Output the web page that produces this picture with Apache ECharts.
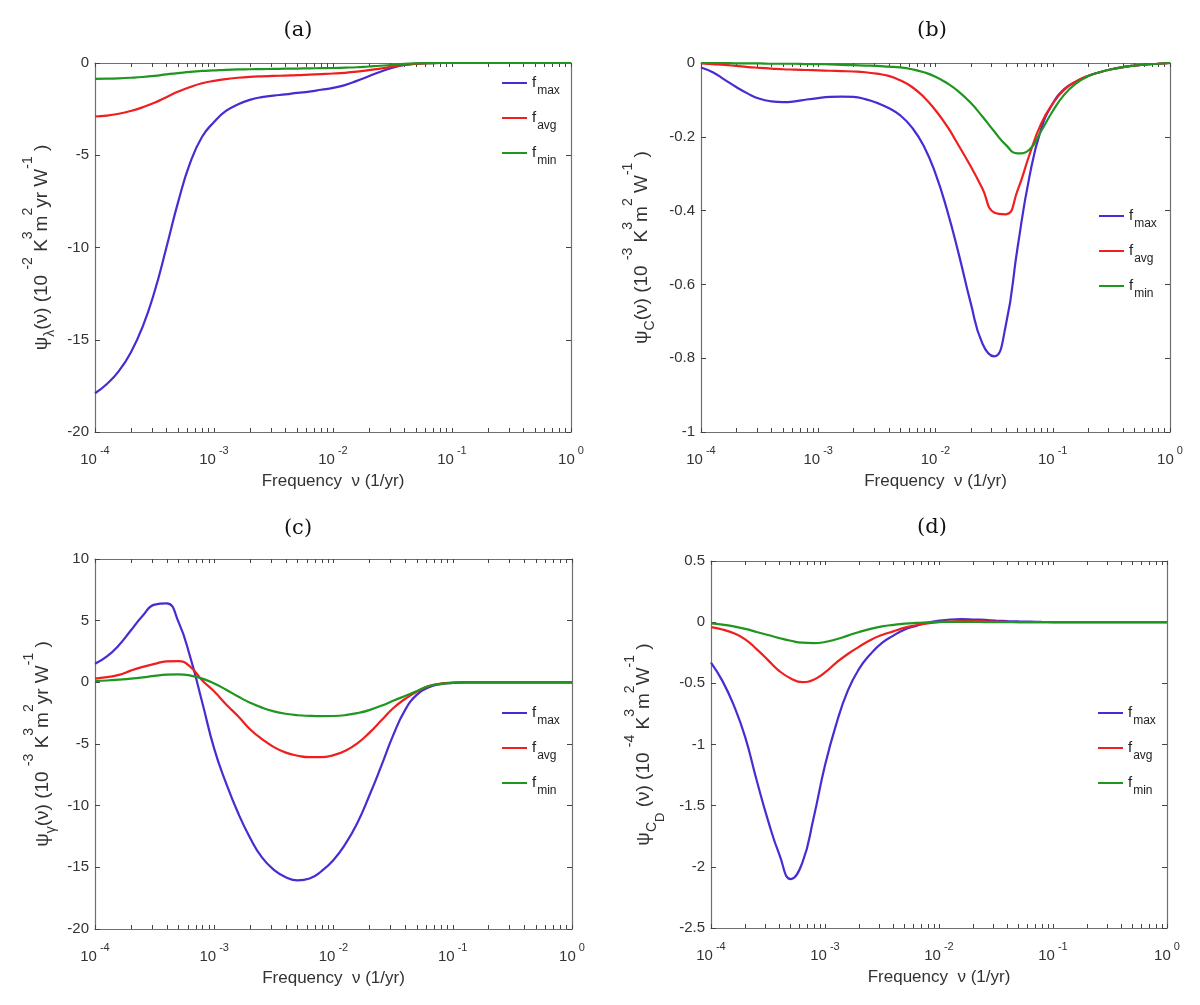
<!DOCTYPE html>
<html>
<head>
<meta charset="utf-8">
<script src="https://cdn.jsdelivr.net/npm/echarts@6/dist/echarts.min.js"></script>
<style>
  html, body { margin: 0; padding: 0; background: #fff; }
  #main { width: 1200px; height: 1005px; }
</style>
</head>
<body>
<div id="main"></div>
<script>
// log10 of frequency (1/yr), 10 points per decade
const logFreq = [-4.0, -3.9, -3.8, -3.7, -3.6, -3.5, -3.4, -3.3, -3.2, -3.1,
  -3.0, -2.9, -2.8, -2.7, -2.6, -2.5, -2.4, -2.3, -2.2, -2.1,
  -2.0, -1.9, -1.8, -1.7, -1.6, -1.5, -1.4, -1.3, -1.2, -1.1,
  -1.0, -0.9, -0.8, -0.7, -0.6, -0.5, -0.4, -0.3, -0.2, -0.1, 0.0]

// (a) psi_lambda, 10^-2
const lambdaMax = [-17.9, -17.4, -16.7, -15.7, -14.3, -12.4, -10.0, -7.5, -5.4, -4.0,
  -3.2, -2.6, -2.25, -2.0, -1.85, -1.77, -1.7, -1.62, -1.55, -1.45,
  -1.35, -1.2, -0.97, -0.72, -0.47, -0.26, -0.11, -0.03, -0.01, 0,
  0, 0, 0, 0, 0, 0, 0, 0, 0, 0, 0]
const lambdaAvg = [-2.9, -2.85, -2.75, -2.6, -2.4, -2.15, -1.85, -1.55, -1.3, -1.1,
  -0.97, -0.87, -0.8, -0.75, -0.72, -0.7, -0.68, -0.66, -0.63, -0.6,
  -0.57, -0.53, -0.47, -0.39, -0.3, -0.2, -0.11, -0.04, -0.01, 0,
  0, 0, 0, 0, 0, 0, 0, 0, 0, 0, 0]
const lambdaMin = [-0.86, -0.85, -0.83, -0.8, -0.76, -0.7, -0.62, -0.55, -0.48, -0.43,
  -0.4, -0.37, -0.35, -0.34, -0.33, -0.32, -0.31, -0.3, -0.29, -0.28,
  -0.27, -0.25, -0.23, -0.19, -0.15, -0.1, -0.05, -0.02, -0.005, 0,
  0, 0, 0, 0, 0, 0, 0, 0, 0, 0, 0]

// (b) psi_C, 10^-3
const cMax = [-0.012, -0.025, -0.045, -0.065, -0.083, -0.097, -0.104, -0.106, -0.104, -0.099,
  -0.095, -0.092, -0.091, -0.092, -0.098, -0.108, -0.122, -0.142, -0.175, -0.225,
  -0.30, -0.40, -0.52, -0.65, -0.76, -0.795, -0.71, -0.50, -0.31, -0.18,
  -0.11, -0.07, -0.05, -0.035, -0.025, -0.017, -0.011, -0.007, -0.004, -0.002, 0]
const cAvg = [-0.001, -0.003, -0.005, -0.008, -0.011, -0.013, -0.015, -0.017, -0.018, -0.019,
  -0.020, -0.021, -0.022, -0.023, -0.025, -0.029, -0.035, -0.047, -0.065, -0.092,
  -0.128, -0.172, -0.225, -0.28, -0.34, -0.405, -0.41, -0.345, -0.25, -0.165,
  -0.11, -0.072, -0.05, -0.035, -0.025, -0.017, -0.011, -0.007, -0.004, -0.002, 0]
const cMin = [0, 0, 0, -0.001, -0.001, -0.001, -0.002, -0.002, -0.002, -0.003,
  -0.003, -0.004, -0.005, -0.006, -0.007, -0.008, -0.01, -0.012, -0.017, -0.025,
  -0.037, -0.055, -0.078, -0.108, -0.145, -0.185, -0.222, -0.245, -0.235, -0.185,
  -0.13, -0.085, -0.055, -0.036, -0.025, -0.017, -0.011, -0.007, -0.004, -0.002, 0]

// (c) psi_gamma, 10^-3
const gammaMax = [1.5, 2.1, 3.0, 4.2, 5.4, 6.3, 6.4, 4.9, 2.0, -1.65,
  -5.4, -8.2, -10.6, -12.6, -14.2, -15.2, -15.8, -16.05, -15.9, -15.3,
  -14.4, -13.1, -11.4, -9.2, -6.8, -4.3, -2.25, -1.0, -0.4, -0.15,
  -0.05, 0, 0, 0, 0, 0, 0, 0, 0, 0, 0]
const gammaAvg = [0.3, 0.42, 0.6, 0.95, 1.25, 1.5, 1.7, 1.72, 1.25, 0.15,
  -0.75, -1.8, -2.75, -3.8, -4.6, -5.25, -5.7, -5.95, -6.07, -6.07,
  -5.9, -5.55, -4.95, -4.1, -3.1, -2.1, -1.35, -0.75, -0.3, -0.1,
  -0.03, 0, 0, 0, 0, 0, 0, 0, 0, 0, 0]
const gammaMin = [0.1, 0.15, 0.22, 0.3, 0.4, 0.52, 0.62, 0.65, 0.55, 0.3,
  -0.1, -0.6, -1.15, -1.65, -2.05, -2.35, -2.55, -2.67, -2.72, -2.74,
  -2.73, -2.66, -2.5, -2.25, -1.9, -1.5, -1.1, -0.7, -0.3, -0.12,
  -0.04, 0, 0, 0, 0, 0, 0, 0, 0, 0, 0]

// (d) psi_CD, 10^-4
const cdMax = [-0.33, -0.48, -0.68, -0.94, -1.29, -1.62, -1.9, -2.1, -1.97, -1.6,
  -1.17, -0.83, -0.56, -0.38, -0.26, -0.17, -0.11, -0.06, -0.03, -0.005,
  0.012, 0.022, 0.025, 0.022, 0.018, 0.013, 0.009, 0.006, 0.004, 0.002,
  0.001, 0, 0, 0, 0, 0, 0, 0, 0, 0, 0]
const cdAvg = [-0.04, -0.06, -0.09, -0.14, -0.22, -0.31, -0.4, -0.46, -0.49, -0.47,
  -0.41, -0.33, -0.26, -0.2, -0.145, -0.105, -0.075, -0.045, -0.025, -0.01,
  0, 0.005, 0.008, 0.008, 0.006, 0.004, 0.002, 0.001, 0, 0,
  0, 0, 0, 0, 0, 0, 0, 0, 0, 0, 0]
const cdMin = [-0.01, -0.02, -0.035, -0.055, -0.08, -0.105, -0.13, -0.152, -0.168, -0.172,
  -0.162, -0.14, -0.11, -0.08, -0.055, -0.035, -0.022, -0.012, -0.006, -0.002,
  0.002, 0.003, 0.003, 0.002, 0.001, 0, 0, 0, 0, 0,
  0, 0, 0, 0, 0, 0, 0, 0, 0, 0, 0]

const seriesNames = ['fmax', 'favg', 'fmin']
const legendSubs = { fmax: 'max', favg: 'avg', fmin: 'min' }
const seriesColors = ['#4a2bd3', '#f01e1e', '#1f961f']
const panelTitles = ['(a)', '(b)', '(c)', '(d)']

const fontSans = 'Liberation Sans, Arial, sans-serif'
const boxColor = '#707070'
const textColor = '#333'

// minor ticks of a log axis, expressed in log10 units
const decades = [-4, -3, -2, -1]
const mantissas = [1, 2, 3, 4, 5, 6, 7, 8, 9]
const xTickVals = []
decades.forEach(function(d) {
  mantissas.forEach(function(m) { xTickVals.push(d + Math.log10(m)) })
})
xTickVals.push(0)

const nameRich = {
  b: { fontSize: 19, fontFamily: fontSans, color: textColor, verticalAlign: 'top', padding: [11, 0, 0, 0] },
  p: { fontSize: 14, fontFamily: fontSans, color: textColor, verticalAlign: 'top', padding: [0, 0, 0, 0] },
  s: { fontSize: 14, fontFamily: fontSans, color: textColor, verticalAlign: 'top', padding: [22, 0, 0, 0] },
  ss: { fontSize: 13, fontFamily: fontSans, color: textColor, verticalAlign: 'top', padding: [31, 0, 0, 0] }
}

const panels = [
  {
    grid: { left: 95, top: 63, width: 476, height: 369 },
    title: [298, 31],
    y: { min: -20, max: 0, interval: 5 },
    yName: '{b|ψ}{s|λ}{b|(ν) (10 }{p|-2}{b| K}{p|3}{b|m}{p|2}{b|yr W}{p|-1}{b| )}',
    nameGap: 38,
    legend: { left: 502, top: 75 },
    data: [lambdaMax, lambdaAvg, lambdaMin]
  },
  {
    grid: { left: 701, top: 63, width: 469, height: 369 },
    title: [932, 31],
    y: { min: -1, max: 0, interval: 0.2 },
    yName: '{b|ψ}{s|C}{b|(ν) (10 }{p|-3}{b| K}{p|3}{b|m}{p|2}{b| W}{p|-1}{b| )}',
    nameGap: 44,
    legend: { left: 1099, top: 208 },
    data: [cMax, cAvg, cMin]
  },
  {
    grid: { left: 95, top: 559, width: 477, height: 370 },
    title: [298, 529],
    y: { min: -20, max: 10, interval: 5 },
    yName: '{b|ψ}{s|γ}{b|(ν) (10 }{p|-3}{b| K}{p|3}{b|m}{p|2}{b|yr W}{p|-1}{b| )}',
    nameGap: 37,
    legend: { left: 502, top: 705 },
    data: [gammaMax, gammaAvg, gammaMin]
  },
  {
    grid: { left: 711, top: 561, width: 456, height: 367 },
    title: [932, 528],
    y: { min: -2.5, max: 0.5, interval: 0.5 },
    yName: '{b|ψ}{s|C}{ss|D}{b| (ν) (10 }{p|-4}{b| K}{p|3}{b|m}{p|2}{b|W}{p|-1}{b| )}',
    nameGap: 44,
    legend: { left: 1098, top: 705 },
    data: [cdMax, cdAvg, cdMin]
  }
]

const grids = []
const xAxes = []
const yAxes = []
const series = []
const legends = []
const graphics = []

panels.forEach(function(p, i) {
  grids.push(p.grid)

  const xBase = {
    gridIndex: i,
    type: 'value',
    min: -4,
    max: 0,
    interval: 1,
    splitLine: { show: false },
    axisLine: { show: true, onZero: false, lineStyle: { color: boxColor, width: 1.2 } },
    axisTick: { show: true, inside: true, length: 4, customValues: xTickVals, lineStyle: { color: '#444' } }
  }
  xAxes.push(Object.assign({}, xBase, {
    position: 'bottom',
    name: 'Frequency  ν (1/yr)',
    nameLocation: 'middle',
    nameGap: 41,
    nameTextStyle: { fontSize: 17, fontFamily: fontSans, color: textColor },
    axisLabel: {
      margin: 13,
      formatter: function(v) { return '{b|10}{p|' + v + '}' },
      rich: {
        b: { fontSize: 15, fontFamily: fontSans, color: textColor, verticalAlign: 'top', padding: [7, 0, 0, 0] },
        p: { fontSize: 11, fontFamily: fontSans, color: textColor, verticalAlign: 'top', padding: [0, 0, 0, 3] }
      }
    }
  }))
  xAxes.push(Object.assign({}, xBase, {
    position: 'top',
    axisLabel: { show: false }
  }))

  const yBase = {
    gridIndex: i,
    type: 'value',
    min: p.y.min,
    max: p.y.max,
    interval: p.y.interval,
    splitLine: { show: false },
    axisLine: { show: true, onZero: false, lineStyle: { color: boxColor, width: 1.2 } },
    axisTick: { show: true, inside: true, length: 5, lineStyle: { color: '#444' } }
  }
  yAxes.push(Object.assign({}, yBase, {
    position: 'left',
    name: p.yName,
    nameLocation: 'middle',
    nameRotate: 90,
    nameGap: p.nameGap,
    nameTextStyle: { rich: nameRich },
    axisLabel: { fontSize: 15, fontFamily: fontSans, color: textColor, margin: 6 }
  }))
  yAxes.push(Object.assign({}, yBase, {
    position: 'right',
    axisLabel: { show: false }
  }))

  p.data.forEach(function(vals, k) {
    series.push({
      name: seriesNames[k],
      type: 'line',
      xAxisIndex: 2 * i,
      yAxisIndex: 2 * i,
      data: logFreq.map(function(x, j) { return [x, vals[j]] }),
      showSymbol: false,
      smooth: 0.5,
      lineStyle: { color: seriesColors[k], width: 2.2 },
      itemStyle: { color: seriesColors[k] },
      z: 3 + k
    })
  })

  legends.push({
    orient: 'vertical',
    left: p.legend.left,
    top: p.legend.top,
    padding: 0,
    itemGap: 13,
    itemWidth: 25,
    itemHeight: 2,
    icon: 'rect',
    selectedMode: false,
    data: seriesNames,
    formatter: function(name) { return '{f|f}{s|' + legendSubs[name] + '}' },
    textStyle: {
      rich: {
        f: { fontSize: 15, fontFamily: fontSans, color: '#222', verticalAlign: 'top', padding: [6, 0, 0, 0] },
        s: { fontSize: 12, fontFamily: fontSans, color: '#222', verticalAlign: 'top', padding: [16, 0, 0, 1] }
      }
    }
  })

  graphics.push({
    type: 'text',
    x: p.title[0],
    y: p.title[1],
    style: {
      text: panelTitles[i],
      align: 'center',
      verticalAlign: 'middle',
      font: '21px "DejaVu Serif", serif',
      fill: '#111'
    }
  })
})

const myChart = echarts.init(document.getElementById('main'), null, { renderer: 'canvas' })
myChart.setOption({
  backgroundColor: '#fff',
  animation: false,
  grid: grids,
  xAxis: xAxes,
  yAxis: yAxes,
  legend: legends,
  graphic: graphics,
  series: series
})
</script>
</body>
</html>
